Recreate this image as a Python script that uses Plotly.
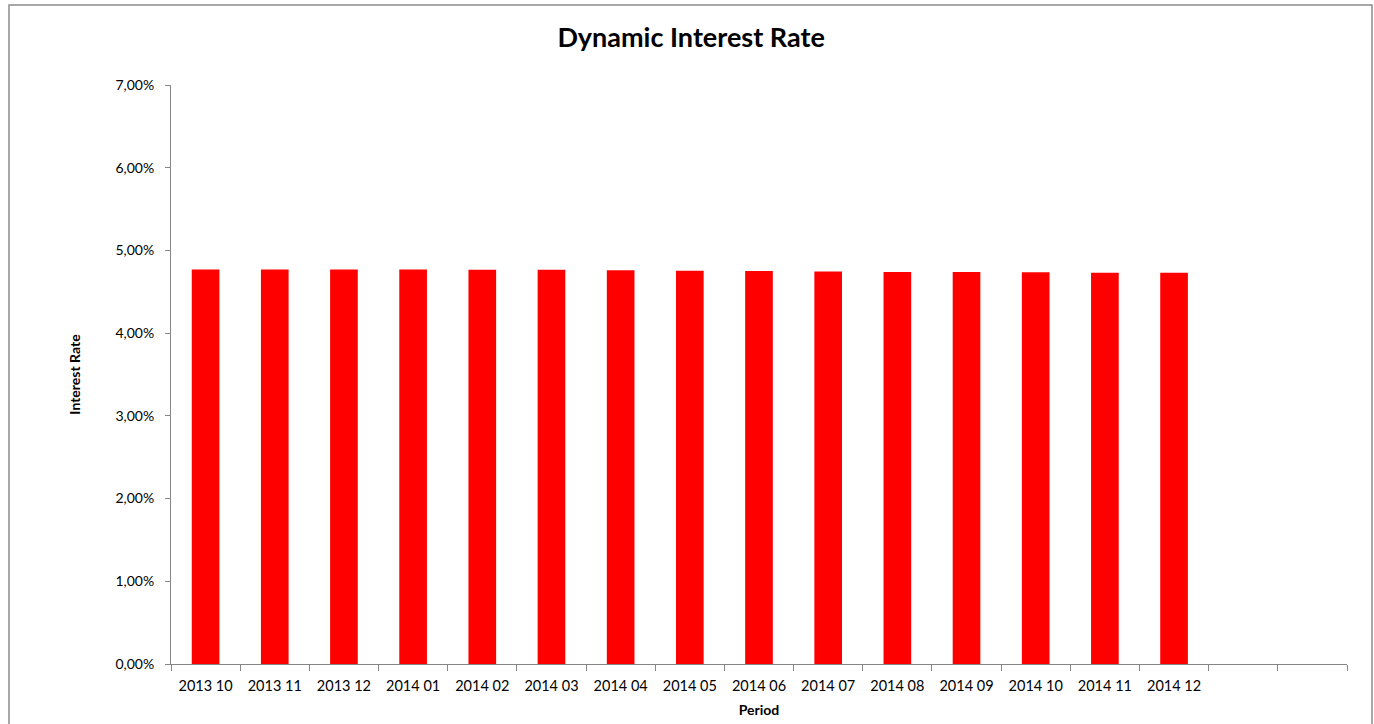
import plotly.graph_objects as go

periods = ["2013 10", "2013 11", "2013 12", "2014 01", "2014 02", "2014 03",
           "2014 04", "2014 05", "2014 06", "2014 07", "2014 08", "2014 09",
           "2014 10", "2014 11", "2014 12", " ", "  "]
rates = [0.0477, 0.0477, 0.0477, 0.0477, 0.04765, 0.04765, 0.0476, 0.04755,
         0.0475, 0.04745, 0.0474, 0.0474, 0.04735, 0.0473, 0.0473, None, None]
y_ticks = [0, 0.01, 0.02, 0.03, 0.04, 0.05, 0.06, 0.07]

W, H = 1374, 724
L, R, T, B = 171, 27, 85, 60
pw, ph = W - L - R, H - T - B

def px_x(p):
    return (p - L) / pw

def px_y(p):
    return (H - B - p) / ph

fig = go.Figure()
fig.add_trace(go.Bar(x=periods, y=rates, marker_color="#FF0000",
                     marker_line_width=0, width=0.4))

font = "Lato, Open Sans, sans-serif"
fig.update_layout(
    width=W, height=H,
    margin=dict(l=L, r=R, t=T, b=B),
    paper_bgcolor="white", plot_bgcolor="white",
    separators=",.",
    font=dict(family=font, color="#000000", size=13),
    title=dict(text="<b>Dynamic Interest Rate</b>", x=0.503, xanchor="center",
               xref="container", y=1 - 38 / H, yanchor="middle",
               font=dict(size=27, family=font)),
    showlegend=False,
    bargap=0.6,
)
fig.update_xaxes(
    type="category", categoryorder="array", categoryarray=periods,
    range=[-0.5, len(periods) - 0.5], automargin=False,
    showline=True, linecolor="#868686", linewidth=1,
    ticks="outside", tickson="boundaries", ticklen=6, tickcolor="#868686",
    showgrid=False, tickfont=dict(size=14.5), ticklabelstandoff=9,
    title=dict(text="<b>Period</b>", font=dict(size=14), standoff=11),
)
fig.update_yaxes(
    range=[0, 0.07], tickvals=y_ticks, tickformat=".2%", automargin=False,
    showline=True, linecolor="#868686", linewidth=1,
    ticks="outside", ticklen=5, tickcolor="#868686",
    showgrid=False, zeroline=False, tickfont=dict(size=14), ticklabelstandoff=8,
    title=dict(text="<b>Interest Rate</b>", font=dict(size=14), standoff=31),
)
fig.add_shape(type="rect", xref="paper", yref="paper",
              x0=px_x(9), x1=px_x(1372), y0=px_y(740), y1=px_y(5),
              line=dict(color="#8c8c8c", width=1.5), fillcolor="rgba(0,0,0,0)")

fig.write_html("out.html", config={"displayModeBar": False},
               post_script="document.body.style.margin='0';document.body.style.overflow='hidden';")
